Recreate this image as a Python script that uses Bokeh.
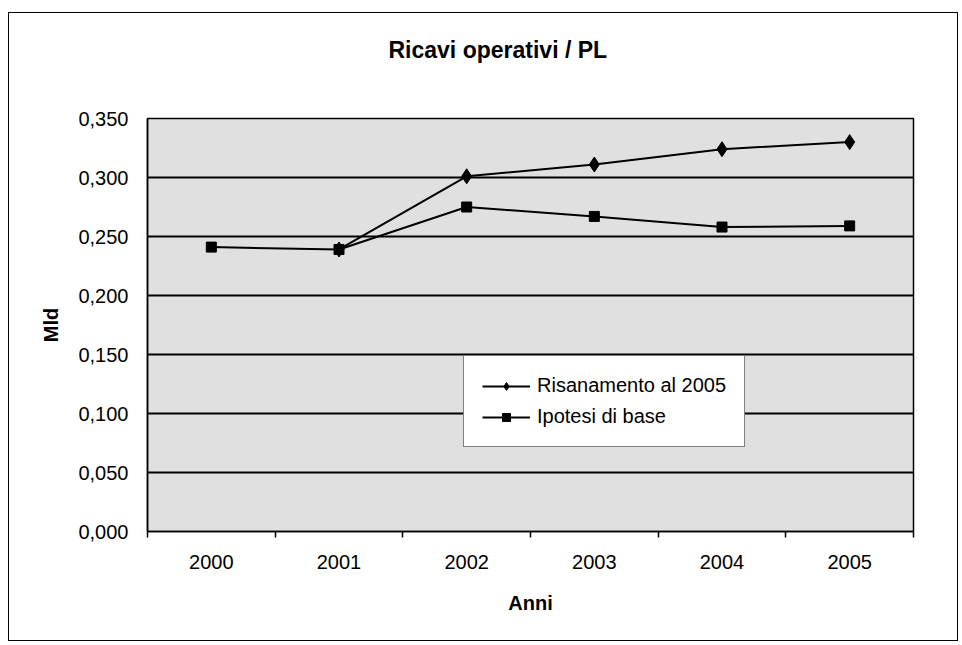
import numpy as np
from bokeh.plotting import figure
from bokeh.models import (ColumnDataSource, FixedTicker, CustomJSTickFormatter,
                          Legend, LegendItem, Range1d, Title)
from bokeh.embed import file_html
from bokeh.resources import INLINE

# ---- data ----
years = ["2000", "2001", "2002", "2003", "2004", "2005"]
risanamento = [np.nan, 0.239, 0.301, 0.311, 0.324, 0.330]
ipotesi = [0.241, 0.239, 0.275, 0.267, 0.258, 0.259]
y_ticks = [0.0, 0.05, 0.10, 0.15, 0.20, 0.25, 0.30, 0.35]

title_text = "Ricavi operativi / PL"
x_title = "Anni"
y_title = "Mld"
FONT = "Liberation Sans"

x_idx = list(range(len(years)))
src = ColumnDataSource(dict(x=x_idx, year=years, ris=risanamento, ipo=ipotesi))

p = figure(width=950, height=629, output_backend="svg", toolbar_location=None,
           x_range=Range1d(-0.5, len(years) - 0.5),
           y_range=Range1d(y_ticks[0], y_ticks[-1]),
           min_border_left=138, min_border_right=46,
           min_border_top=105, min_border_bottom=111)
p.styles = {"border": "1px solid black", "margin-left": "8px", "margin-top": "12px"}

p.background_fill_color = "#e0e0e0"
p.border_fill_color = "white"
p.outline_line_color = "black"
p.outline_line_width = 1.5

# title: a blank spacer panel next to the frame, then the real title above it
spacer = Title(text=" ", text_font=FONT, text_font_size="20px", standoff=32)
p.add_layout(spacer, "above")
main_title = Title(text=title_text, text_font=FONT, text_font_size="23px",
                   text_font_style="bold", text_color="black",
                   align="left", offset=241, standoff=0)
p.add_layout(main_title, "above")

# x axis: labels at category centres, ticks at category boundaries
xa = p.xaxis[0]
xa.ticker = FixedTicker(ticks=x_idx, minor_ticks=[i - 0.5 for i in range(len(years) + 1)])
xa.major_label_overrides = {i: yv for i, yv in enumerate(years)}
xa.major_tick_out = 0
xa.major_tick_in = 0
xa.minor_tick_out = 6
xa.minor_tick_in = 0
xa.minor_tick_line_color = "black"
xa.minor_tick_line_width = 1.5
xa.axis_line_color = "black"
xa.axis_line_width = 1.5
xa.major_label_text_font = FONT
xa.major_label_text_font_size = "20px"
xa.major_label_text_color = "black"
xa.major_label_standoff = 17
xa.axis_label = x_title
xa.axis_label_text_font = FONT
xa.axis_label_text_font_size = "20px"
xa.axis_label_text_font_style = "bold"
xa.axis_label_text_color = "black"
xa.axis_label_standoff = 20

# y axis
ya = p.yaxis[0]
ya.ticker = FixedTicker(ticks=y_ticks)
ya.formatter = CustomJSTickFormatter(code="return tick.toFixed(3).replace('.', ',');")
ya.major_tick_out = 0
ya.major_tick_in = 0
ya.minor_tick_line_color = None
ya.axis_line_color = "black"
ya.axis_line_width = 1.5
ya.major_label_text_font = FONT
ya.major_label_text_font_size = "20px"
ya.major_label_text_color = "black"
ya.major_label_standoff = 19
ya.axis_label = y_title
ya.axis_label_text_font = FONT
ya.axis_label_text_font_size = "20px"
ya.axis_label_text_font_style = "bold"
ya.axis_label_text_color = "black"
ya.axis_label_standoff = 13

p.xgrid.grid_line_color = None
p.ygrid.grid_line_color = "black"
p.ygrid.grid_line_width = 2

# series
r1l = p.line("x", "ris", source=src, line_color="black", line_width=2)
r1m = p.scatter("x", "ris", source=src, marker="diamond", size=15,
                fill_color="black", line_color="black")
r2l = p.line("x", "ipo", source=src, line_color="black", line_width=2)
r2m = p.scatter("x", "ipo", source=src, marker="square", size=10,
                fill_color="black", line_color="black")

legend = Legend(items=[
    LegendItem(label="Risanamento al 2005", renderers=[r1l, r1m]),
    LegendItem(label="Ipotesi di base", renderers=[r2l, r2m]),
], location=(316, 84))
legend.border_line_color = "black"
legend.border_line_width = 1.5
legend.background_fill_color = "white"
legend.background_fill_alpha = 1.0
legend.glyph_width = 48
legend.glyph_height = 20
legend.label_standoff = 7
legend.padding = 18
legend.spacing = 8
legend.margin = 0
legend.label_text_font = FONT
legend.label_text_font_size = "20px"
legend.label_text_color = "black"
legend.label_height = 22
p.add_layout(legend)

open("out.html", "w").write(file_html(p, INLINE))
